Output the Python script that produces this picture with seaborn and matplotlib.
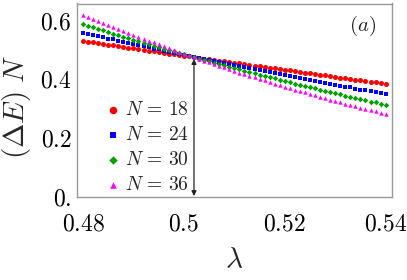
import numpy as np
import pandas as pd
import matplotlib
matplotlib.use("Agg")
import matplotlib.pyplot as plt
from matplotlib.ticker import MultipleLocator, FixedLocator, FixedFormatter
import seaborn as sns

# coupling values (lambda) and (Delta E) N for each system size
lam = [0.480, 0.481, 0.482, 0.483, 0.484, 0.485, 0.486, 0.487, 0.488, 0.489,
       0.490, 0.491, 0.492, 0.493, 0.494, 0.495, 0.496, 0.497, 0.498, 0.499,
       0.500, 0.501, 0.502, 0.503, 0.504, 0.505, 0.506, 0.507, 0.508, 0.509,
       0.510, 0.511, 0.512, 0.513, 0.514, 0.515, 0.516, 0.517, 0.518, 0.519,
       0.520, 0.521, 0.522, 0.523, 0.524, 0.525, 0.526, 0.527, 0.528, 0.529,
       0.530, 0.531, 0.532, 0.533, 0.534, 0.535, 0.536, 0.537, 0.538, 0.539,
       0.540]

gap_n18 = [0.530, 0.527, 0.525, 0.522, 0.520, 0.517, 0.515, 0.512, 0.510, 0.507,
           0.505, 0.502, 0.500, 0.497, 0.495, 0.492, 0.490, 0.487, 0.485, 0.482,
           0.480, 0.477, 0.475, 0.473, 0.470, 0.468, 0.465, 0.463, 0.460, 0.458,
           0.455, 0.453, 0.451, 0.448, 0.446, 0.443, 0.441, 0.438, 0.436, 0.434,
           0.431, 0.429, 0.426, 0.424, 0.422, 0.419, 0.417, 0.415, 0.412, 0.410,
           0.407, 0.405, 0.403, 0.400, 0.398, 0.396, 0.393, 0.391, 0.389, 0.386,
           0.384]
gap_n24 = [0.558, 0.554, 0.550, 0.546, 0.542, 0.538, 0.535, 0.531, 0.527, 0.523,
           0.519, 0.516, 0.512, 0.508, 0.504, 0.501, 0.497, 0.493, 0.490, 0.486,
           0.482, 0.479, 0.475, 0.471, 0.468, 0.464, 0.461, 0.457, 0.454, 0.450,
           0.447, 0.443, 0.440, 0.436, 0.433, 0.429, 0.426, 0.423, 0.419, 0.416,
           0.413, 0.409, 0.406, 0.403, 0.399, 0.396, 0.393, 0.390, 0.386, 0.383,
           0.380, 0.377, 0.374, 0.371, 0.367, 0.364, 0.361, 0.358, 0.355, 0.352,
           0.349]
gap_n30 = [0.587, 0.582, 0.576, 0.571, 0.566, 0.560, 0.555, 0.550, 0.545, 0.540,
           0.534, 0.529, 0.524, 0.519, 0.514, 0.509, 0.504, 0.499, 0.494, 0.490,
           0.485, 0.480, 0.475, 0.470, 0.465, 0.461, 0.456, 0.451, 0.447, 0.442,
           0.437, 0.433, 0.428, 0.424, 0.419, 0.415, 0.410, 0.406, 0.402, 0.397,
           0.393, 0.389, 0.384, 0.380, 0.376, 0.372, 0.368, 0.363, 0.359, 0.355,
           0.351, 0.347, 0.343, 0.339, 0.335, 0.331, 0.327, 0.323, 0.320, 0.316,
           0.312]
gap_n36 = [0.620, 0.613, 0.606, 0.599, 0.592, 0.585, 0.578, 0.571, 0.565, 0.558,
           0.551, 0.545, 0.538, 0.531, 0.525, 0.519, 0.512, 0.506, 0.500, 0.493,
           0.487, 0.481, 0.475, 0.469, 0.463, 0.457, 0.451, 0.445, 0.440, 0.434,
           0.428, 0.422, 0.417, 0.411, 0.406, 0.400, 0.395, 0.390, 0.384, 0.379,
           0.374, 0.369, 0.364, 0.359, 0.354, 0.349, 0.344, 0.339, 0.334, 0.329,
           0.325, 0.320, 0.315, 0.311, 0.306, 0.302, 0.297, 0.293, 0.289, 0.284,
           0.280]

sizes = [18, 24, 30, 36]
gaps = [gap_n18, gap_n24, gap_n30, gap_n36]
colors = ["#ff0000", "#0000ff", "#00a000", "#ff00ff"]
markers = ["o", "s", "D", "^"]
msizes = [13, 7, 8, 10]

x_ticks = [0.48, 0.50, 0.52, 0.54]
x_labels = ["$0.48$", "$0.5$", "$0.52$", "$0.54$"]
y_ticks = [0.0, 0.2, 0.4, 0.6]
y_labels = ["$0.$", "$0.2$", "$0.4$", "$0.6$"]

# crossing point marked with the double arrow
arrow_x = 0.502
arrow_top = 0.468

sns.set_theme(style="white")
plt.rcParams["mathtext.fontset"] = "cm"
plt.rcParams["font.family"] = ["DejaVu Serif"]

fig = plt.figure(figsize=(4.07, 2.80), dpi=100)
ax = fig.add_axes([0.1892, 0.2964, 0.7739, 0.6911])

for n, g, c, m, s in zip(sizes, gaps, colors, markers, msizes):
    df = pd.DataFrame({"lam": lam, "gap": g})
    sns.scatterplot(data=df, x="lam", y="gap", ax=ax, color=c, marker=m,
                    s=s, linewidth=0, label=rf"$N\,=\,{n}$", zorder=3)

ax.annotate("", xy=(arrow_x, 0.0), xytext=(arrow_x, arrow_top),
            arrowprops=dict(arrowstyle="<|-|>", color="#222222", lw=0.9,
                            mutation_scale=7, shrinkA=0, shrinkB=0), zorder=2)

ax.set_xlim(0.47881, 0.54125)
ax.set_ylim(-0.0034, 0.658)

ax.xaxis.set_major_locator(FixedLocator(x_ticks))
ax.xaxis.set_major_formatter(FixedFormatter(x_labels))
ax.yaxis.set_major_locator(FixedLocator(y_ticks))
ax.yaxis.set_major_formatter(FixedFormatter(y_labels))
ax.xaxis.set_minor_locator(MultipleLocator(0.0025))
ax.yaxis.set_minor_locator(MultipleLocator(0.05))

spine_col = "#9a9a9a"
for sp in ax.spines.values():
    sp.set_color(spine_col)
    sp.set_linewidth(1.0)
ax.tick_params(which="both", direction="in", color=spine_col, width=0.8,
               top=False, right=False, labelsize=17, labelcolor="black")
ax.tick_params(which="major", length=5)
ax.tick_params(axis="x", which="major", pad=11)
ax.tick_params(axis="y", which="major", pad=4)
ax.tick_params(which="minor", length=3)

ax.set_xlabel(r"$\lambda$", fontsize=21)
ax.set_ylabel(r"$(\Delta E)\ N$", fontsize=21)
ax.xaxis.set_label_coords(0.5, -0.255)
ax.yaxis.set_label_coords(-0.14, 0.465)

ax.text(0.906, 0.885, r"$(a)$", transform=ax.transAxes, fontsize=15,
        ha="center", va="center")

ax.legend(loc="upper left", bbox_to_anchor=(0.075, 0.535), frameon=False,
          fontsize=14, handlelength=0.5, handletextpad=0.35,
          labelspacing=0.36, borderaxespad=0, markerscale=1.5)

fig.savefig("out.png", dpi=100)
